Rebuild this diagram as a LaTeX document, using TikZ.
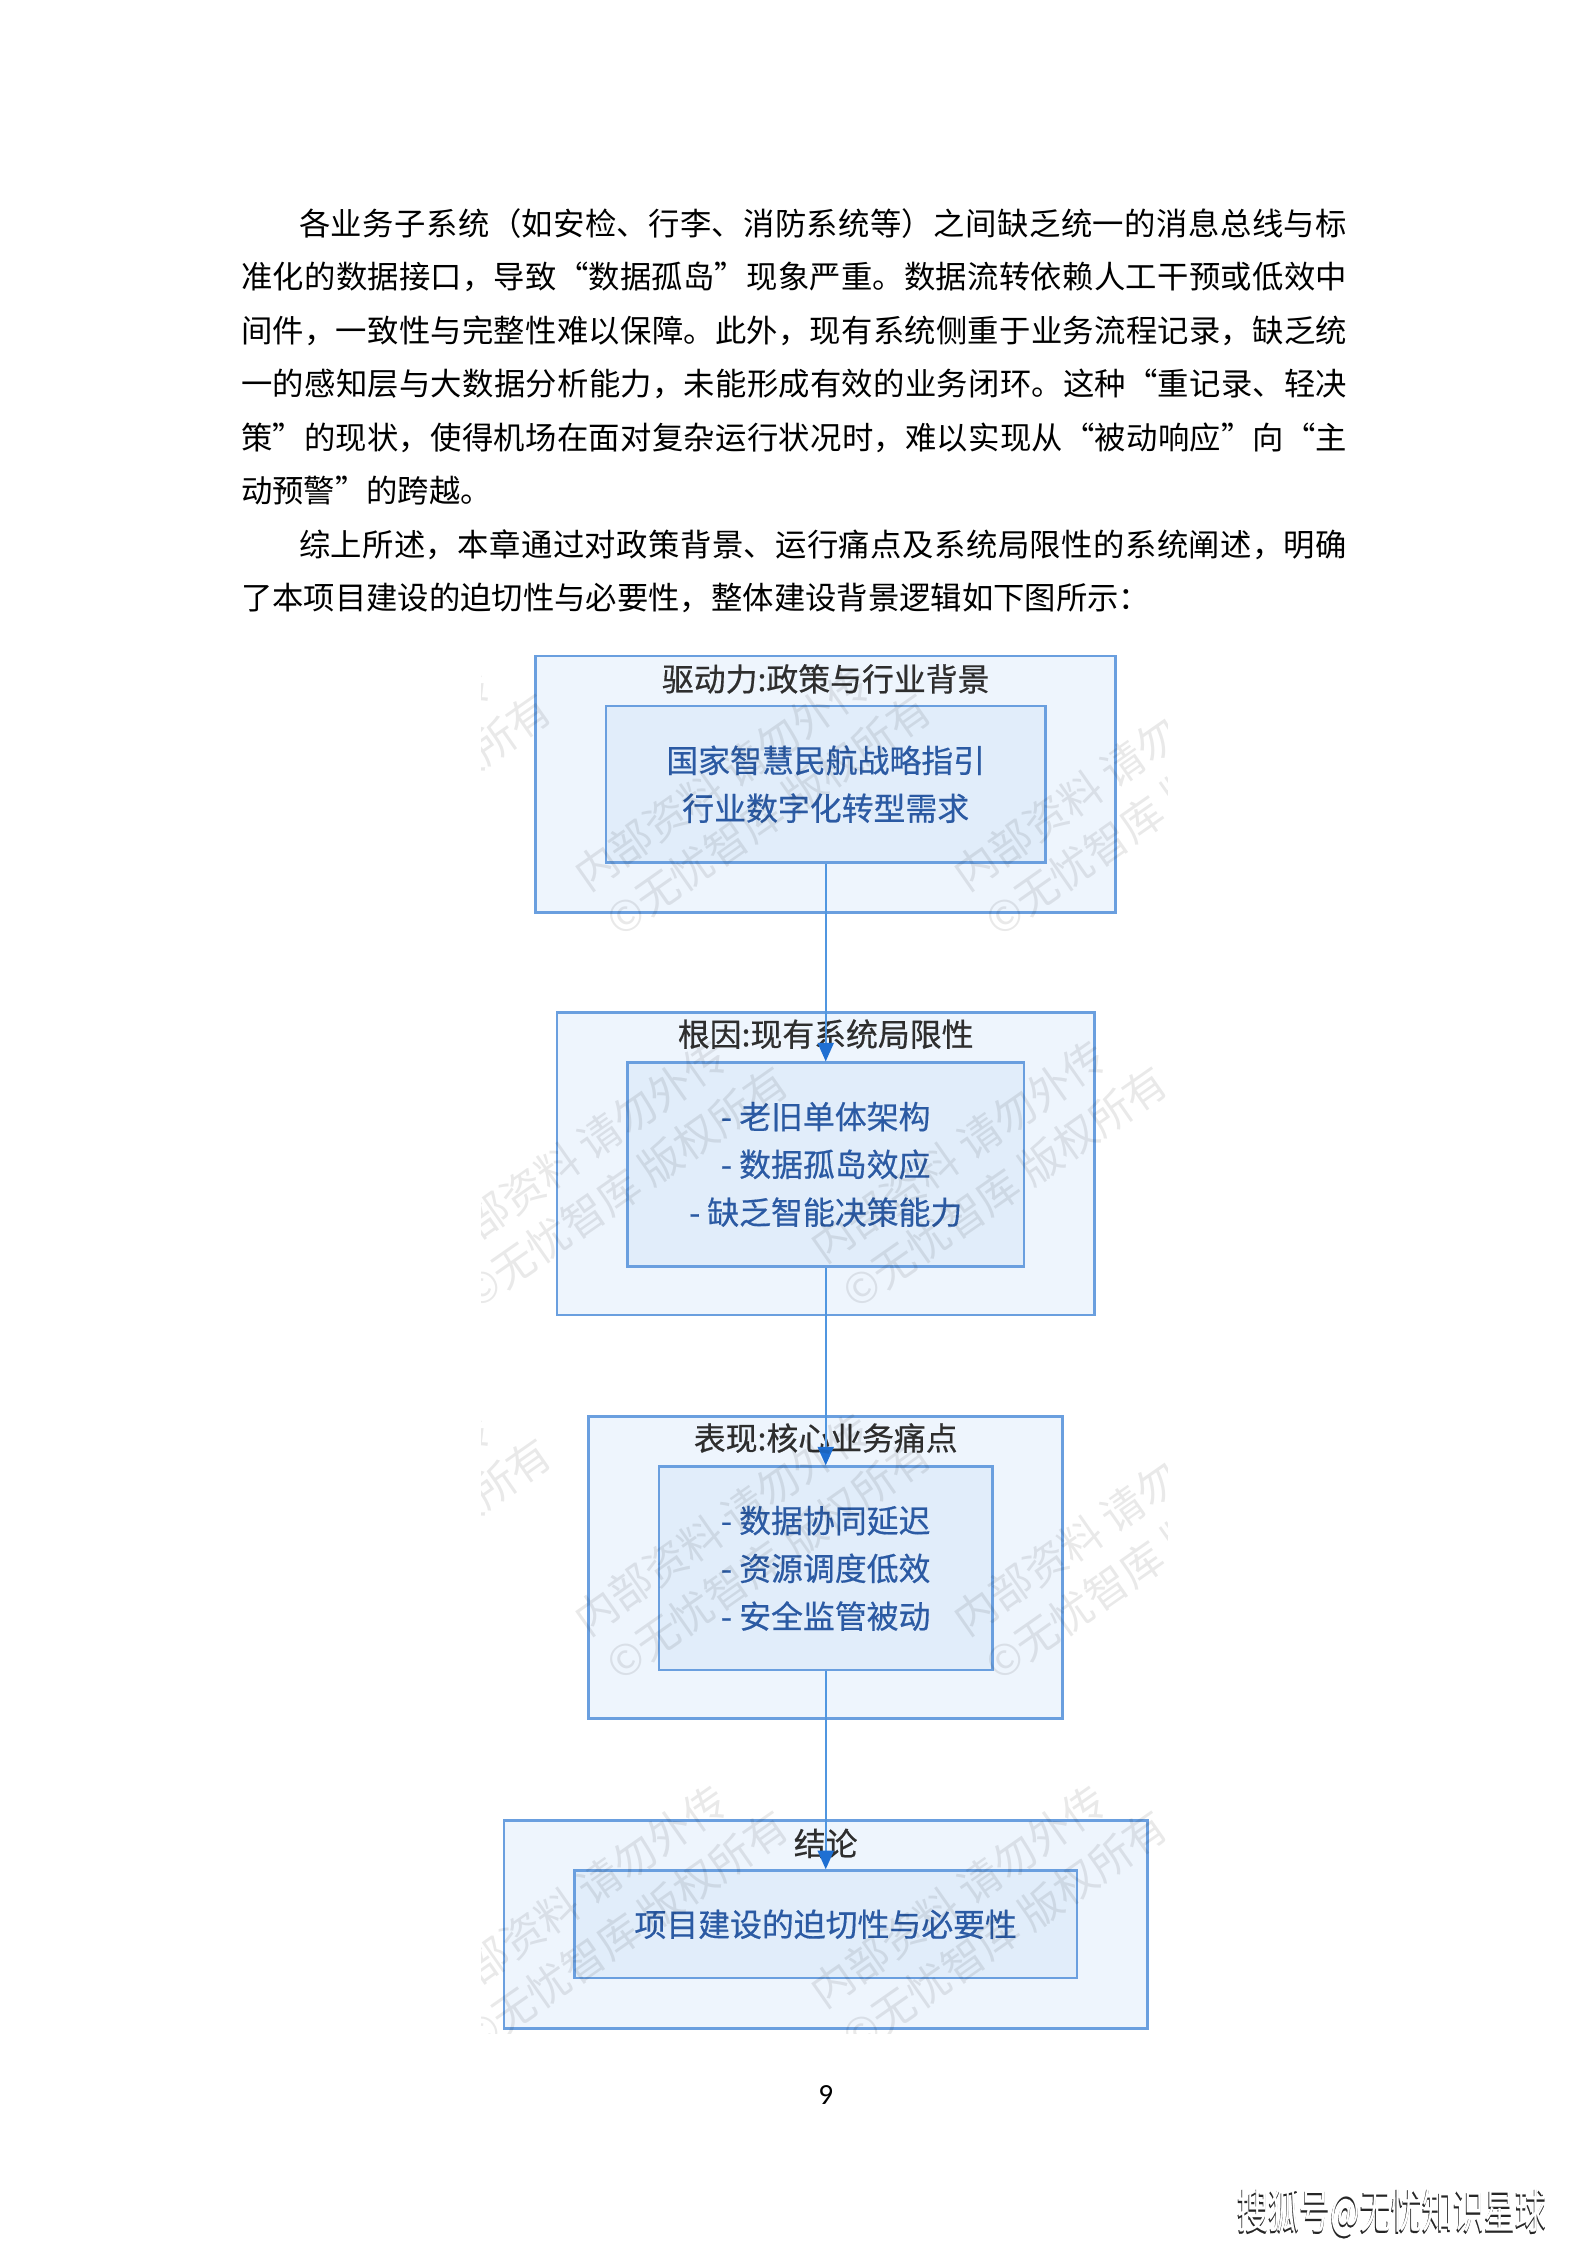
\documentclass[tikz,border=0pt]{standalone}
\usepackage{fontspec}
\setmainfont{Noto Sans CJK SC}
\newfontfamily\numfont{Carlito}
\newfontfamily\medfont{Noto Sans CJK SC}[FakeBold=0.5]
\usetikzlibrary{arrows.meta}
\XeTeXlinebreaklocale "zh"
\XeTeXlinebreakskip=0pt plus 2pt

\definecolor{rand}{HTML}{6A9FDF}
\definecolor{buiten}{HTML}{EEF5FD}
\definecolor{binnen}{HTML}{E1EDFA}
\definecolor{tekst}{HTML}{2B5AA3}
\definecolor{pijl}{HTML}{5096E0}
\definecolor{punt}{HTML}{1F6FD2}
\definecolor{titel}{HTML}{2E2E2E}

\tikzset{
  outerbox/.style={draw=rand, fill=buiten, line width=1pt, inner sep=0pt},
  innerbox/.style={draw=rand, fill=binnen, line width=1pt, inner sep=0pt, align=center,
    text=tekst, font=\medfont\fontsize{12}{18}\selectfont},
  boxtitle/.style={text=titel, inner sep=0pt, font=\medfont\fontsize{12}{14}\selectfont},
  flow/.style={draw=pijl, line width=0.8pt, -{Triangle[length=7pt,width=6pt,color=punt]}},
  bodyline/.style={anchor=base west, inner sep=0pt, font=\fontsize{11.8}{20}\selectfont},
  watermark/.style={anchor=west, rotate=35, align=left, inner sep=0pt,
    text=black, text opacity=0.085, font=\fontsize{16}{21}\selectfont}
}
\newcommand{\volleregel}[1]{\vbox{\hsize=14.632cm\parindent=0pt\parfillskip=0pt\noindent #1\par}}

\begin{document}
\begin{tikzpicture}[x=0.018953cm, y=-0.018953cm]
  \fill[white] (0,0) rectangle (1108,1567.4);
  \useasboundingbox (0,0) rectangle (1108,1567.4);

  % tekst boven de figuur
  \node[bodyline] (l1) at (168,164.4) {\volleregel{\hspace*{1.85em}各业务子系统（如安检、行李、消防系统等）之间缺乏统一的消息总线与标}};
  \node[bodyline] (l2) at (168,201.7) {\volleregel{准化的数据接口，导致“数据孤岛”现象严重。数据流转依赖人工干预或低效中}};
  \node[bodyline] (l3) at (168,239.0) {\volleregel{间件，一致性与完整性难以保障。此外，现有系统侧重于业务流程记录，缺乏统}};
  \node[bodyline] (l4) at (168,276.3) {\volleregel{一的感知层与大数据分析能力，未能形成有效的业务闭环。这种“重记录、轻决}};
  \node[bodyline] (l5) at (168,313.6) {\volleregel{策”的现状，使得机场在面对复杂运行状况时，难以实现从“被动响应”向“主}};
  \node[bodyline] (l6) at (168,350.9) {动预警”的跨越。};
  \node[bodyline] (l7) at (168,388.2) {\volleregel{\hspace*{1.85em}综上所述，本章通过对政策背景、运行痛点及系统局限性的系统阐述，明确}};
  \node[bodyline] (l8) at (168,425.5) {了本项目建设的迫切性与必要性，整体建设背景逻辑如下图所示：};

  % buitenste kaders
  \node[outerbox, minimum width=7.676cm, minimum height=3.393cm] (o1) at (576.5,547.5) {};
  \node[outerbox, minimum width=7.107cm, minimum height=3.999cm] (o2) at (576.5,812.5) {};
  \node[outerbox, minimum width=6.273cm, minimum height=3.999cm] (o3) at (576.5,1094.5) {};
  \node[outerbox, minimum width=8.510cm, minimum height=2.748cm] (o4) at (576.5,1343.5) {};

  % titels
  \node[boxtitle] (t1) at (576.5,474) {驱动力:政策与行业背景};
  \node[boxtitle] (t2) at (576.5,722) {根因:现有系统局限性};
  \node[boxtitle] (t3) at (576.5,1004) {表现:核心业务痛点};
  \node[boxtitle] (t4) at (576.5,1287) {结论};

  % binnenste kaders
  \node[innerbox, minimum width=5.819cm, minimum height=2.066cm] (i1) at (576.5,547.5)
    {国家智慧民航战略指引\\行业数字化转型需求};
  \node[innerbox, minimum width=5.250cm, minimum height=2.691cm] (i2) at (576.5,813)
    {- 老旧单体架构\\- 数据孤岛效应\\- 缺乏智能决策能力};
  \node[innerbox, minimum width=4.416cm, minimum height=2.691cm] (i3) at (576.5,1095)
    {- 数据协同延迟\\- 资源调度低效\\- 安全监管被动};
  \node[innerbox, minimum width=6.652cm, minimum height=1.421cm] (i4) at (576.5,1343.5)
    {项目建设的迫切性与必要性};

  % pijlen
  \draw[flow] (i1) -- (i2);
  \draw[flow] (i2) -- (i3);
  \draw[flow] (i3) -- (i4);

  % watermerk in de figuur
  \begin{scope}
    \clip (336,452) rectangle (815,1420);
    \foreach \r in {-1,...,3}{
      \foreach \c in {0,...,3}{
        \pgfmathsetmacro{\wx}{150+265*\c-100*mod(\r+2,2)}
        \pgfmathsetmacro{\wy}{630+260*\r}
        \node[watermark] (wm\r\c) at (\wx,\wy) {内部资料 请勿外传\\©无忧智库 版权所有};
      }
    }
  \end{scope}

  % paginanummer en merk
  \node[inner sep=0pt, font=\numfont\fontsize{11}{13}\selectfont] (pnr) at (576.5,1463) {9};
  \node[inner sep=0pt, xscale=0.65, text=black!85, font=\medfont\fontsize{18}{20}\selectfont] (merk) at (971.2,1545.8) {搜狐号@无忧知识星球};
  \node[inner sep=0pt, xscale=0.65, text=white, font=\fontsize{18}{20}\selectfont] (merkwit) at (972,1545) {搜狐号@无忧知识星球};
\end{tikzpicture}
\end{document}
